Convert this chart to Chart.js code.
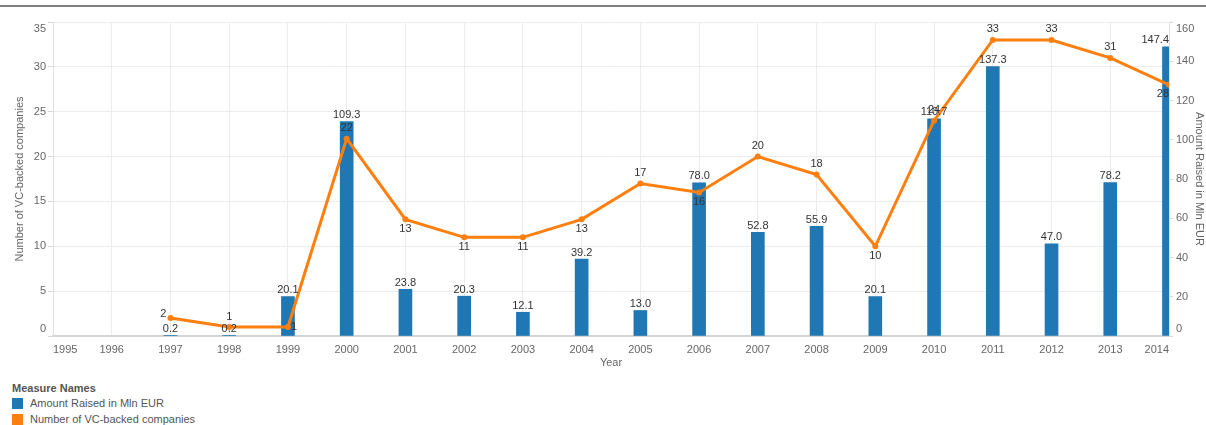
<!DOCTYPE html>
<html>
<head>
<meta charset="utf-8">
<script src="https://cdn.jsdelivr.net/npm/chart.js@4"></script>
<style>
    html, body { margin: 0; padding: 0; background: #fff; }
    body { width: 1206px; height: 425px; position: relative; overflow: hidden;
           font-family: "Liberation Sans", Arial, sans-serif; }
    #topLine { position: absolute; left: 0; top: 5px; width: 1206px; height: 2px; background: #7f7f7f; }
    #chartBox { position: absolute; left: 0; top: 0; width: 1206px; height: 372px; }
    #legend { position: absolute; left: 12px; top: 382px; font-size: 11px; color: #555; }
    #legend .title { font-weight: bold; margin-bottom: 3px; }
    #legend .item { height: 16px; line-height: 13px; }
    #legend .swatch { display: inline-block; width: 11px; height: 11px; vertical-align: -2px; margin-right: 7px; }
</style>
</head>
<body>
<div id="topLine"></div>
<div id="chartBox"><canvas id="comboChart"></canvas></div>
<div id="legend">
    <div class="title">Measure Names</div>
    <div class="item"><span class="swatch" style="background:#1f77b4"></span>Amount Raised in Mln EUR</div>
    <div class="item"><span class="swatch" style="background:#ff7f0e"></span>Number of VC-backed companies</div>
</div>
<script>

// --------------------------------------------------------------------------
//                                 data
// --------------------------------------------------------------------------

const years = ['1995', '1996', '1997', '1998', '1999', '2000', '2001', '2002', '2003', '2004',
               '2005', '2006', '2007', '2008', '2009', '2010', '2011', '2012', '2013', '2014'];

// Amount Raised in Mln EUR (bars, right axis)
const amountRaised = [null, null, 0.2, 0.2, 20.1, 109.3, 23.8, 20.3, 12.1, 39.2,
                      13.0, 78.0, 52.8, 55.9, 20.1, 110.7, 137.3, 47.0, 78.2, 147.4];

// Number of VC-backed companies (line, left axis)
const companies = [null, null, 2, 1, 1, 22, 13, 11, 11, 13,
                   17, 16, 20, 18, 10, 24, 33, 33, 31, 28];

const leftTicks = [0, 5, 10, 15, 20, 25, 30, 35];
const rightTicks = [0, 20, 40, 60, 80, 100, 120, 140, 160];

// where each line label sits relative to its point
const lineLabelSide = ['', '', 'left', 'above', 'right', 'above', 'below', 'below', 'below', 'below',
                       'above', 'below', 'above', 'above', 'below', 'above', 'above', 'above', 'above', 'below'];

const BLUE = '#1f77b4';
const ORANGE = '#ff7f0e';
const FONT = '"Liberation Sans", Arial, sans-serif';

// --------------------------------------------------------------------------
//                            value labels
// --------------------------------------------------------------------------

const valueLabels = {
    id: 'valueLabels',
    afterDatasetsDraw(chart) {
        const ctx = chart.ctx;
        const area = chart.chartArea;
        ctx.save();
        ctx.font = '11px ' + FONT;
        ctx.fillStyle = '#333';

        chart.data.datasets.forEach((ds, di) => {
            const meta = chart.getDatasetMeta(di);
            meta.data.forEach((el, i) => {
                const v = ds.data[i];
                if (v === null || v === undefined) return;
                let x = el.x, y = el.y;
                let text, align = 'center', base = 'bottom';
                if (ds.type === 'bar') {
                    text = v.toFixed(1);
                    y = y - 1;
                } else {
                    text = String(v);
                    const side = lineLabelSide[i];
                    if (side === 'above') { y = y - 5; }
                    else if (side === 'below') { y = y + 4; base = 'top'; }
                    else if (side === 'left') { x = x - 4; y = y + 1; align = 'right'; }
                    else if (side === 'right') { x = x + 3; base = 'middle'; align = 'left'; }
                }
                const w = ctx.measureText(text).width;
                if (align === 'center' && x + w / 2 > area.right) { x = area.right; align = 'right'; }
                ctx.textAlign = align;
                ctx.textBaseline = base;
                ctx.fillText(text, x, y);
            });
        });
        ctx.restore();
    }
};

// --------------------------------------------------------------------------
//                               chart
// --------------------------------------------------------------------------

// first and last y labels are pushed inside the plot, like the original
const edgeLabel = (value, index, ticks) => {
    if (index === 0) return [String(value), ''];
    if (index === ticks.length - 1) return ['', String(value)];
    return String(value);
};

const ctx = document.getElementById('comboChart').getContext('2d');

new Chart(ctx, {
    data: {
        labels: years,
        datasets: [{
            type: 'line',
            label: 'Number of VC-backed companies',
            data: companies,
            yAxisID: 'yLeft',
            borderColor: ORANGE,
            backgroundColor: ORANGE,
            borderWidth: 3,
            pointRadius: 3,
            pointBorderWidth: 0,
            tension: 0,
            clip: 0,
            order: 0
        }, {
            type: 'bar',
            label: 'Amount Raised in Mln EUR',
            data: amountRaised,
            yAxisID: 'yRight',
            backgroundColor: BLUE,
            barThickness: 13,
            clip: 0,
            order: 1
        }]
    },
    options: {
        responsive: true,
        maintainAspectRatio: false,
        animation: false,
        layout: { padding: { top: 22, left: 0, right: 0, bottom: 0 } },
        plugins: {
            legend: { display: false },
            tooltip: { enabled: false }
        },
        scales: {
            x: {
                type: 'category',
                offset: false,
                grid: { offset: false, color: '#ececec', drawTicks: false },
                border: { color: '#d4d4d4', width: 2 },
                ticks: { color: '#666', font: { family: FONT, size: 11 }, padding: 7,
                         align: 'inner', maxRotation: 0, autoSkip: false },
                title: { display: true, text: 'Year', color: '#666',
                         font: { family: FONT, size: 11 }, padding: { top: 0, bottom: 2 } },
                afterFit: (scale) => { scale.height = 36; }
            },
            yLeft: {
                position: 'left',
                min: 0,
                max: 35,
                afterBuildTicks: (scale) => { scale.ticks = leftTicks.map(v => ({ value: v })); },
                grid: { color: '#ececec', tickColor: '#d8d8d8', tickLength: 5 },
                border: { color: '#e0e0e0' },
                ticks: { color: '#666', font: { family: FONT, size: 11 }, padding: 2,
                         callback: edgeLabel },
                title: { display: true, text: 'Number of VC-backed companies', color: '#666',
                         font: { family: FONT, size: 11 }, padding: { top: 13, bottom: 0 } },
                afterFit: (scale) => { scale.width = 53; }
            },
            yRight: {
                position: 'right',
                min: 0,
                max: 160,
                afterBuildTicks: (scale) => { scale.ticks = rightTicks.map(v => ({ value: v })); },
                grid: { drawOnChartArea: false, tickColor: '#d8d8d8', tickLength: 4 },
                border: { color: '#e0e0e0' },
                ticks: { color: '#666', font: { family: FONT, size: 11 }, padding: 3,
                         callback: edgeLabel },
                title: { display: true, text: 'Amount Raised in Mln EUR', color: '#666',
                         font: { family: FONT, size: 11 }, padding: { top: 0, bottom: 0 } },
                afterFit: (scale) => { scale.width = 37; }
            }
        }
    },
    plugins: [valueLabels]
});
</script>
</body>
</html>
